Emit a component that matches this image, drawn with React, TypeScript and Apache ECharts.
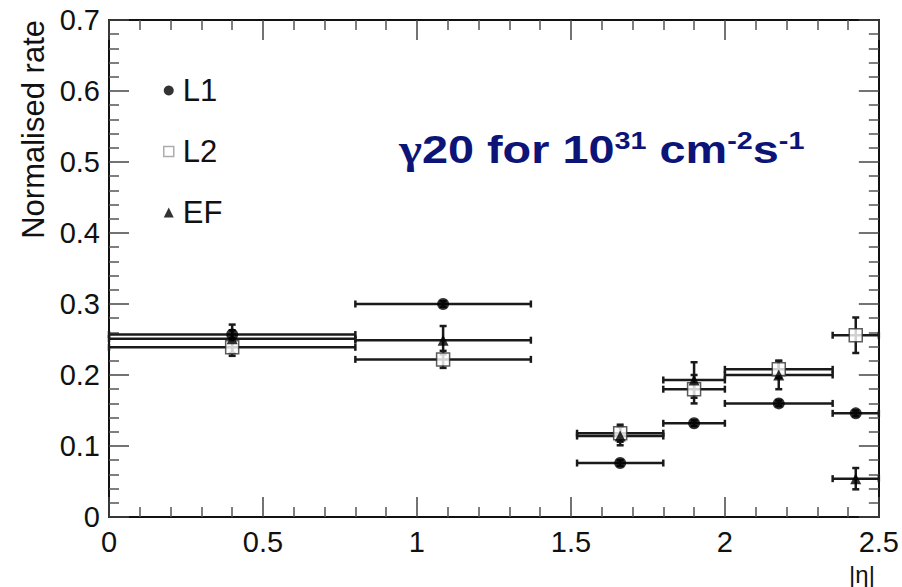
import React, { useEffect, useRef } from "react";
import * as echarts from "echarts";

// |eta| bins
const binLow = [0, 0.8, 1.52, 1.8, 2.0, 2.35];
const binHigh = [0.8, 1.37, 1.8, 2.0, 2.35, 2.5];
const binCentre = [0.4, 1.085, 1.66, 1.9, 2.175, 2.425];

// normalised rates and their errors
const l1Rate = [0.257, 0.3, 0.076, 0.132, 0.16, 0.146];
const l1Err = [0.006, 0.004, 0.004, 0.004, 0.004, 0.004];
const l2Rate = [0.239, 0.222, 0.118, 0.18, 0.208, 0.256];
const l2Err = [0.012, 0.012, 0.012, 0.02, 0.012, 0.025];
const efRate = [0.251, 0.249, 0.114, 0.193, 0.2, 0.054];
const efErr = [0.02, 0.02, 0.013, 0.025, 0.02, 0.015];

const xTickLabels = ["0", "0.5", "1", "1.5", "2", "2.5"];
const yTickLabels = ["0", "0.1", "0.2", "0.3", "0.4", "0.5", "0.6", "0.7"];

const FONT = "'Liberation Sans', Arial, Helvetica, sans-serif";
const SERIF = "'Liberation Serif', 'DejaVu Serif', serif";
const INK = "#111";
const NAVY = "#0c1478";

const mk = (rates: number[], errs: number[]) =>
  binCentre.map((x, i) => [x, rates[i], binLow[i], binHigh[i], errs[i]]);

function errRenderItem(params: any, api: any) {
  const xc = api.value(0);
  const y = api.value(1);
  const xlo = api.value(2);
  const xhi = api.value(3);
  const ey = api.value(4);
  const pL = api.coord([xlo, y]);
  const pR = api.coord([xhi, y]);
  const pT = api.coord([xc, y + ey]);
  const pB = api.coord([xc, y - ey]);
  const style = { stroke: "#1a1a1a", lineWidth: 2.5 };
  const cap = 3.5;
  const ln = (x1: number, y1: number, x2: number, y2: number) => ({
    type: "line",
    shape: { x1, y1, x2, y2 },
    style,
  });
  return {
    type: "group",
    children: [
      ln(pL[0], pL[1], pR[0], pR[1]),
      ln(pL[0], pL[1] - cap, pL[0], pL[1] + cap),
      ln(pR[0], pR[1] - cap, pR[0], pR[1] + cap),
      ln(pT[0], pT[1], pB[0], pB[1]),
      ln(pT[0] - cap, pT[1], pT[0] + cap, pT[1]),
      ln(pB[0] - cap, pB[1], pB[0] + cap, pB[1]),
    ],
  };
}

const axisCommon = {
  type: "value" as const,
  axisLine: { show: true, onZero: false, lineStyle: { color: INK, width: 2 } },
  axisTick: { show: true, inside: true, length: 20, lineStyle: { color: "#444", width: 1.5 } },
  minorTick: { show: true, splitNumber: 5, length: 10, lineStyle: { color: "#555", width: 1.5 } },
  splitLine: { show: false },
  minorSplitLine: { show: false },
};

export default function App() {
  const ref = useRef<HTMLDivElement>(null);
  useEffect(() => {
    const chart = echarts.init(ref.current!, null, { renderer: "svg" });
    const option: any = {
      animation: false,
      backgroundColor: "#fff",
      grid: { left: 109, right: 23, top: 20, bottom: 70 },
      xAxis: [
        {
          ...axisCommon,
          min: 0,
          max: 2.5,
          interval: 0.5,
          position: "bottom",
          axisLabel: {
            show: true,
            margin: 10,
            fontSize: 29,
            fontFamily: FONT,
            color: INK,
            formatter: (v: number) => xTickLabels[Math.round(v / 0.5)],
          },
        },
        {
          ...axisCommon,
          min: 0,
          max: 2.5,
          interval: 0.5,
          position: "top",
          axisLabel: { show: false },
        },
      ],
      yAxis: [
        {
          ...axisCommon,
          min: 0,
          max: 0.7,
          interval: 0.1,
          position: "left",
          axisLabel: {
            show: true,
            margin: 9,
            fontSize: 29,
            fontFamily: FONT,
            color: INK,
            formatter: (v: number) => yTickLabels[Math.round(v / 0.1)],
          },
        },
        {
          ...axisCommon,
          min: 0,
          max: 0.7,
          interval: 0.1,
          position: "right",
          axisLabel: { show: false },
        },
      ],
      legend: {
        orient: "vertical",
        left: 163,
        top: 75,
        itemGap: 30,
        itemWidth: 10,
        itemHeight: 10,
        padding: 0,
        textStyle: { fontSize: 31, fontFamily: FONT, color: INK, padding: [4, 0, 0, 4] },
        data: [
          { name: "L1", icon: "circle" },
          { name: "L2", icon: "rect", itemStyle: { color: "#fff", borderColor: "#999", borderWidth: 1.5 } },
          { name: "EF", icon: "triangle" },
        ],
      },
      graphic: [
        {
          type: "text",
          x: 33,
          y: 20,
          rotation: Math.PI / 2,
          style: {
            text: "Normalised rate",
            fontSize: 31,
            fontFamily: FONT,
            fill: INK,
            align: "right",
            verticalAlign: "middle",
          },
        },
        {
          type: "text",
          x: 862,
          y: 574,
          style: {
            text: "|η|",
            fontSize: 24,
            fontFamily: FONT,
            fill: INK,
            align: "center",
            verticalAlign: "middle",
          },
        },
        {
          type: "text",
          x: 399,
          y: 129,
          scaleX: 1.2,
          style: {
            text: "{g|γ}{m|20 for 10}{s|31}{m| cm}{s|-2}{m|s}{s|-1}",
            fontFamily: FONT,
            fontWeight: "bold",
            fill: NAVY,
            align: "left",
            verticalAlign: "top",
            rich: {
              g: { fontSize: 41, fontWeight: "bold", fontFamily: SERIF, fill: NAVY, verticalAlign: "middle" },
              m: { fontSize: 39, fontWeight: "bold", fontFamily: FONT, fill: NAVY, verticalAlign: "middle" },
              s: { fontSize: 24, fontWeight: "bold", fontFamily: FONT, fill: NAVY, verticalAlign: "top" },
            },
          },
        },
      ],
      series: [
        { name: "L1 err", type: "custom", renderItem: errRenderItem, data: mk(l1Rate, l1Err), encode: { x: 0, y: 1 }, z: 2 },
        { name: "L2 err", type: "custom", renderItem: errRenderItem, data: mk(l2Rate, l2Err), encode: { x: 0, y: 1 }, z: 2 },
        { name: "EF err", type: "custom", renderItem: errRenderItem, data: mk(efRate, efErr), encode: { x: 0, y: 1 }, z: 2 },
        {
          name: "L2",
          type: "scatter",
          symbol: "rect",
          symbolSize: 13,
          itemStyle: { color: "#fff", borderColor: "#333", borderWidth: 1.5 },
          data: binCentre.map((x, i) => [x, l2Rate[i]]),
          z: 3,
        },
        {
          name: "L1",
          type: "scatter",
          symbol: "circle",
          symbolSize: 12,
          itemStyle: { color: "#000" },
          data: binCentre.map((x, i) => [x, l1Rate[i]]),
          z: 4,
        },
        {
          name: "EF",
          type: "scatter",
          symbol: "triangle",
          symbolSize: 11,
          itemStyle: { color: "#000" },
          data: binCentre.map((x, i) => [x, efRate[i]]),
          z: 5,
        },
      ],
    };
    chart.setOption(option);
    return () => chart.dispose();
  }, []);
  return (
    <div
      ref={ref}
      style={{ position: "fixed", left: 0, top: 0, width: 902, height: 587, background: "#fff" }}
    />
  );
}
